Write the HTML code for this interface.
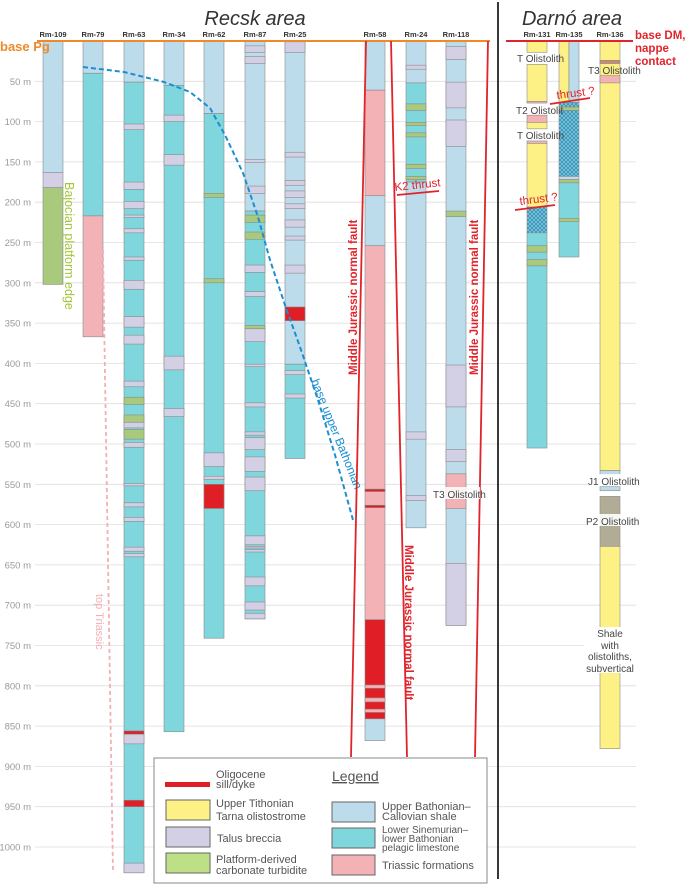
<!DOCTYPE html>
<html><head><meta charset="utf-8"><style>
html,body{margin:0;padding:0;background:#fff;}
svg{display:block;font-family:"Liberation Sans",sans-serif;}
</style></head><body>
<svg id="chart" width="685" height="885" viewBox="0 0 685 885" xmlns="http://www.w3.org/2000/svg">
<defs>
<pattern id="hatch" width="4" height="4" patternUnits="userSpaceOnUse">
<rect width="4" height="4" fill="#74d2da"/>
<path d="M0,0L4,4M4,0L0,4" stroke="#3f86b8" stroke-width="0.8"/>
</pattern>
</defs>
<g id="grid"></g>
<g id="cols"></g>
<g id="over"></g>
</svg>
<script>
const depthTicks=[50,100,150,200,250,300,350,400,450,500,550,600,650,700,750,800,850,900,950,1000];
const wellNames=["Rm-109","Rm-79","Rm-63","Rm-34","Rm-62","Rm-87","Rm-25","Rm-58","Rm-24","Rm-118","Rm-131","Rm-135","Rm-136"];
// intervals [top m, bottom m, type]
const rm109=[[0,163,"U"],[163,182,"T"],[182,302,"G"]];
const rm79=[[0,40,"U"],[40,217,"P"],[217,367,"R"]];
const rm63=[[0,51,"U"],[51,1032,"P"],[103,110,"T"],[175,184,"T"],[199,208,"T"],[216,219,"T"],[233,238,"T"],[268,272,"T"],[297,308,"T"],[342,355,"T"],[365,376,"T"],[422,429,"T"],[473,480,"T"],[498,504,"T"],[549,552,"T"],[573,578,"T"],[591,596,"T"],[628,633,"T"],[636,640,"T"],[860,872,"T"],[1020,1032,"T"],[442,451,"G"],[464,473,"G"],[482,494,"G"],[856,860,"S"],[942,950,"S"]];
const rm34=[[0,55,"U"],[55,857,"P"],[92,100,"T"],[141,154,"T"],[391,408,"T"],[456,466,"T"]];
const rm62=[[0,90,"U"],[90,741,"P"],[189,194,"G"],[295,300,"G"],[511,528,"T"],[540,544,"T"],[550,580,"S"]];
const rm87=[[0,211,"U"],[211,717,"P"],[6,14,"T"],[19,28,"T"],[147,151,"T"],[180,189,"T"],[278,287,"T"],[311,317,"T"],[357,373,"T"],[401,404,"T"],[449,454,"T"],[485,489,"T"],[492,507,"T"],[516,534,"T"],[541,558,"T"],[614,625,"T"],[627,629,"T"],[631,634,"T"],[665,676,"T"],[696,706,"T"],[710,717,"T"],[216,225,"G"],[237,246,"G"],[353,357,"G"]];
const rm25=[[0,401,"U"],[401,518,"P"],[1,14,"T"],[138,144,"T"],[173,179,"T"],[186,194,"T"],[202,208,"T"],[222,231,"T"],[242,247,"T"],[278,288,"T"],[409,414,"T"],[438,443,"T"],[330,347,"S"]];
const rm58=[[0,61,"U"],[61,192,"R"],[192,254,"U"],[254,718,"R"],[718,841,"S"],[841,868,"U"],[556,559,"S"],[576,579,"S"],[799,803,"R"],[815,820,"R"],[829,833,"R"]];
const rm24=[[0,52,"U"],[52,175,"P"],[175,604,"U"],[30,35,"T"],[485,494,"T"],[564,570,"T"],[78,86,"G"],[101,105,"G"],[114,119,"G"],[153,158,"G"],[168,172,"G"]];
const rm118=[[0,725,"U"],[7,23,"T"],[51,83,"T"],[98,131,"T"],[402,454,"T"],[507,522,"T"],[648,725,"T"],[211,218,"G"],[537,580,"R"]];
const rm131=[[0,14,"Y"],[29,75,"Y"],[75,77,"R"],[92,101,"R"],[101,109,"Y"],[124,127,"R"],[127,206,"Y"],[206,238,"H"],[238,505,"P"],[254,262,"G"],[271,279,"G"]];
const rm135a=[[0,76,"Y"]];
const rm135b=[[0,76,"U"]];
const rm135=[[76,82,"H"],[82,86,"G"],[86,168,"H"],[168,172,"U"],[172,176,"G"],[176,268,"P"],[220,224,"G"]];
const rm136=[[0,533,"Y"],[24,28,"B"],[43,52,"R"],[533,538,"U"],[553,558,"U"],[565,627,"K"],[627,878,"Y"]];

const Y0=41, PXM=0.806;
function y(m){return Y0+m*PXM;}
const colors={U:"#bcdcec",P:"#7fd6dc",T:"#d3d0e6",G:"#a9c97c",R:"#f2b2b6",Y:"#fdf084",S:"#e01e26",H:"url(#hatch)",K:"#b1ac96",B:"#c98a6e"};
const NS="http://www.w3.org/2000/svg";
function el(tag,attrs,parent){const e=document.createElementNS(NS,tag);for(const k in attrs)e.setAttribute(k,attrs[k]);parent.appendChild(e);return e;}
const grid=document.getElementById("grid"),cols=document.getElementById("cols");

depthTicks.forEach(d=>{
  const l=el("line",{x1:35,x2:636,y1:y(d),y2:y(d),stroke:"#dedede","stroke-width":0.8},grid);
  
  
  const t=el("text",{x:31,y:y(d)+3.5,"text-anchor":"end","font-size":9.5,fill:"#9a9a9a"},grid);
  t.textContent=d+" m";
  
  
});

const layout=[
 {n:0,x:43,w:20,d:rm109},{n:1,x:83,w:20,d:rm79},{n:2,x:124,w:20,d:rm63},{n:3,x:164,w:20,d:rm34},
 {n:4,x:204,w:20,d:rm62},{n:5,x:245,w:20,d:rm87},{n:6,x:285,w:20,d:rm25},{n:7,x:365,w:20,d:rm58},
 {n:8,x:406,w:20,d:rm24},{n:9,x:446,w:20,d:rm118},{n:10,x:527,w:20,d:rm131},{n:11,x:559,w:20,d:rm135},
 {n:11,x:559,w:10,d:rm135a,nolabel:1},{n:11,x:569,w:10,d:rm135b,nolabel:1},{n:12,x:600,w:20,d:rm136}];
layout.forEach(c=>{
  const g=el("g",{},cols);
  
  
  c.d.forEach(iv=>{
    const r=el("rect",{x:c.x,y:y(iv[0]),width:c.w,height:Math.max(0.8,y(iv[1])-y(iv[0])),fill:colors[iv[2]],stroke:"#8a8a8a","stroke-width":0.6},g);
    
    
  });
  if(!c.nolabel){
    const t=el("text",{x:c.x+c.w/2,y:37,"text-anchor":"middle","font-size":7.5,"font-weight":"bold",fill:"#333"},g);
    t.textContent=wellNames[c.n];
    
    
  }
});
</script>
<script>
(function(){
const over=document.getElementById("over");
over.innerHTML=`
<line x1="37" x2="490" y1="41" y2="41" stroke="#ef8a2c" stroke-width="2"/>
<text x="0" y="51" font-size="13" font-weight="bold" fill="#ef8a2c">base Pg</text>
<line x1="506" x2="633" y1="41" y2="41" stroke="#e0242b" stroke-width="2"/>
<text font-size="11.5" font-weight="bold" fill="#e0242b"><tspan x="635" y="39">base DM,</tspan><tspan x="635" y="52">nappe</tspan><tspan x="635" y="65">contact</tspan></text>
<text x="255" y="25" text-anchor="middle" font-size="20" font-style="italic" fill="#333">Recsk area</text>
<text x="572" y="25" text-anchor="middle" font-size="20" font-style="italic" fill="#333">Darnó area</text>
<line x1="498" x2="498" y1="2" y2="879" stroke="#222" stroke-width="1.8"/>
<polyline points="83,67 124,72 164,82 190,92 210,108 225,135 243,173 258,217 270,260 285,305 300,347 318,400 335,455 353,520" fill="none" stroke="#1b8fd1" stroke-width="2" stroke-dasharray="5,3"/>
<text transform="translate(311,381) rotate(68)" font-size="12" fill="#1b8fd1">base upper Bathonian</text>
<line x1="103" y1="250" x2="113" y2="873" stroke="#f4aeb4" stroke-width="1.8" stroke-dasharray="4,3"/>
<text transform="translate(96,594) rotate(90)" font-size="11" fill="#f4aeb4">top Triassic</text>
<text transform="translate(65,182) rotate(90)" font-size="12.5" fill="#a3c73a">Bajocian platform edge</text>
<line x1="366" y1="41" x2="351" y2="757" stroke="#e0242b" stroke-width="1.8"/>
<line x1="391" y1="41" x2="407" y2="757" stroke="#e0242b" stroke-width="1.8"/>
<line x1="488" y1="41" x2="475" y2="757" stroke="#e0242b" stroke-width="1.8"/>
<text transform="translate(357,375) rotate(-90)" font-size="11.5" font-weight="bold" fill="#e0242b">Middle Jurassic normal fault</text>
<text transform="translate(478,375) rotate(-90)" font-size="11.5" font-weight="bold" fill="#e0242b">Middle Jurassic normal fault</text>
<text transform="translate(405,545) rotate(90)" font-size="11.5" font-weight="bold" fill="#e0242b">Middle Jurassic normal fault</text>
<line x1="397" y1="195" x2="439" y2="191" stroke="#e0242b" stroke-width="1.8"/>
<text transform="translate(395,191) rotate(-6)" font-size="11.5" fill="#e0242b">K2 thrust</text>
<line x1="550" y1="104" x2="590" y2="98" stroke="#e0242b" stroke-width="1.8"/>
<text transform="translate(557,99) rotate(-7)" font-size="11.5" fill="#e0242b">thrust ?</text>
<line x1="515" y1="210" x2="555" y2="205" stroke="#e0242b" stroke-width="1.8"/>
<text transform="translate(520,205) rotate(-7)" font-size="11.5" fill="#e0242b">thrust ?</text>
<g font-size="10" fill="#444">
<text x="517" y="62">T Olistolith</text>
<text x="588" y="74">T3 Olistolith</text>
<text x="516" y="114">T2 Olistolit</text>
<text x="517" y="139">T Olistolith</text>
<rect x="433" y="487" width="47" height="12" fill="#fff" opacity="0.85"/>
<text x="433" y="498">T3 Olistolith</text>
<rect x="588" y="474" width="44" height="12" fill="#fff" opacity="0.9"/>
<text x="588" y="485">J1 Olistolith</text>
<rect x="586" y="514" width="48" height="12" fill="#fff" opacity="0.9"/>
<text x="586" y="525">P2 Olistolith</text>
<rect x="584" y="627" width="52" height="46" fill="#fff"/>
<text text-anchor="middle"><tspan x="610" y="637">Shale</tspan><tspan x="610" y="649">with</tspan><tspan x="610" y="660">olistoliths,</tspan><tspan x="610" y="672">subvertical</tspan></text>
</g>
<g>
<rect x="154" y="758" width="333" height="125" fill="#fff" stroke="#888" stroke-width="1"/>
<text x="332" y="781" font-size="14" fill="#555" text-decoration="underline">Legend</text>
<rect x="165" y="782" width="45" height="5" fill="#e01e26"/>
<g font-size="11" fill="#555">
<text><tspan x="216" y="778">Oligocene</tspan><tspan x="216" y="788">sill/dyke</tspan></text>
<rect x="166" y="800" width="44" height="20" fill="#fdf084" stroke="#666"/>
<text><tspan x="216" y="807">Upper Tithonian</tspan><tspan x="216" y="820">Tarna olistostrome</tspan></text>
<rect x="166" y="827" width="44" height="20" fill="#d3d0e6" stroke="#666"/>
<text x="217" y="842">Talus breccia</text>
<rect x="166" y="853" width="44" height="20" fill="#bde087" stroke="#666"/>
<text><tspan x="216" y="863">Platform-derived</tspan><tspan x="216" y="874">carbonate turbidite</tspan></text>
<rect x="332" y="802" width="43" height="20" fill="#bcdcec" stroke="#666"/>
<text><tspan x="382" y="810">Upper Bathonian–</tspan><tspan x="382" y="820">Callovian shale</tspan></text>
<rect x="332" y="828" width="43" height="20" fill="#7fd6dc" stroke="#666"/>
<text font-size="10"><tspan x="382" y="833">Lower Sinemurian–</tspan><tspan x="382" y="842">lower Bathonian</tspan><tspan x="382" y="851">pelagic limestone</tspan></text>
<rect x="332" y="855" width="43" height="20" fill="#f2b2b6" stroke="#666"/>
<text x="382" y="869">Triassic formations</text>
</g>
</g>`;
})();
</script>
</body></html>
